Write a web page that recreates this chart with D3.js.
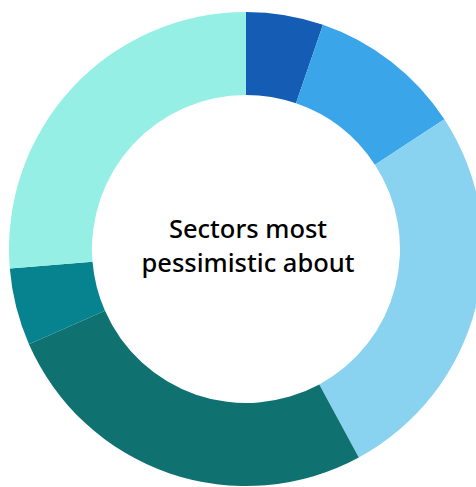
<!DOCTYPE html>
<html>
<head>
<meta charset="utf-8">
<script src="https://cdn.jsdelivr.net/npm/d3@7"></script>
<style>
  html, body { margin: 0; padding: 0; background: #fff; }
  svg { display: block; }
  .center-label { font-family: "Noto Sans", "DejaVu Sans", sans-serif; font-size: 25.5px; font-weight: 500; fill: #000; }
</style>
</head>
<body>
<svg id="canvas" width="476" height="487"></svg>
<script>
// sectors, clockwise from 12 o'clock
const sectors = ["Sector 1", "Sector 2", "Sector 3", "Sector 4", "Sector 5", "Sector 6"];
const counts = [1, 2, 5, 5, 1, 5];
const colours = ["#155cb4", "#3aa5e8", "#89d3f1", "#0f7270", "#06838f", "#95efe4"];
const titleLines = ["Sectors most", "pessimistic about"];

const svg = d3.select("#canvas");
const cx = 246, cy = 249, outerR = 237, innerR = 154;

const data = sectors.map((s, i) => ({ sector: s, value: counts[i] }));
const pie = d3.pie().value(d => d.value).sort(null);
const arc = d3.arc().innerRadius(innerR).outerRadius(outerR);
const colour = d3.scaleOrdinal().domain(sectors).range(colours);

const g = svg.append("g").attr("transform", `translate(${cx},${cy})`);
g.selectAll("path")
  .data(pie(data))
  .join("path")
  .attr("d", arc)
  .attr("fill", d => colour(d.data.sector));

g.append("text")
  .attr("class", "center-label")
  .attr("text-anchor", "middle")
  .selectAll("tspan")
  .data(titleLines)
  .join("tspan")
  .attr("x", 2)
  .attr("y", (d, i) => -11 + i * 34)
  .text(d => d);
</script>
</body>
</html>
